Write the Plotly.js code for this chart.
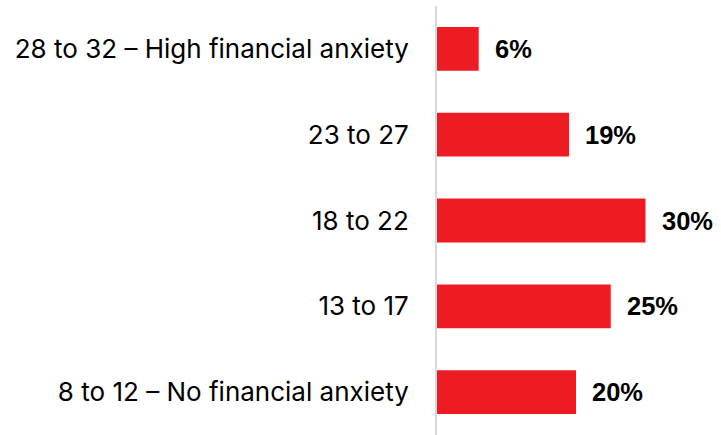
<!DOCTYPE html>
<html>
<head>
<meta charset="utf-8">
<script src="https://cdn.plot.ly/plotly-3.0.1.min.js"></script>
<style>html,body{margin:0;padding:0;background:#fff;}#chart{width:721px;height:435px;}</style>
</head>
<body>
<div id="chart"></div>
<script>
const categories = ["28 to 32 – High financial anxiety", "23 to 27", "18 to 22", "13 to 17", "8 to 12 – No financial anxiety"];
const values = [6, 19, 30, 25, 20];
const valueLabels = ["6%", "19%", "30%", "25%", "20%"];

const trace = {
  type: 'bar',
  orientation: 'h',
  y: categories,
  x: values,
  marker: {color: '#ED1C24'},
  width: 0.51,
  hoverinfo: 'none'
};

const annotations = categories.map((c, i) => ({
  x: values[i], y: c, xref: 'x', yref: 'y',
  text: valueLabels[i], showarrow: false,
  xanchor: 'left', yanchor: 'middle', xshift: 14,
  font: {family: 'Liberation Sans, Arial, sans-serif', size: 25.5, color: '#000', weight: 'bold'}
}));

const layout = {
  width: 721, height: 435,
  margin: {l: 437, r: 6, t: 6, b: 0},
  paper_bgcolor: '#fff', plot_bgcolor: '#fff',
  showlegend: false,
  xaxis: {range: [0, 40], showgrid: false, zeroline: false, showticklabels: false, ticks: '', showline: false},
  yaxis: {
    type: 'category', autorange: 'reversed',
    showgrid: false, zeroline: false,
    showline: true, linecolor: '#d9d9d9', linewidth: 2,
    ticks: 'outside', ticklen: 21, tickcolor: 'rgba(0,0,0,0)',
    tickfont: {family: 'Inter, sans-serif', size: 26, color: '#000'}
  },
  annotations: annotations
};

Plotly.newPlot('chart', [trace], layout, {displayModeBar: false, staticPlot: true});
</script>
</body>
</html>
